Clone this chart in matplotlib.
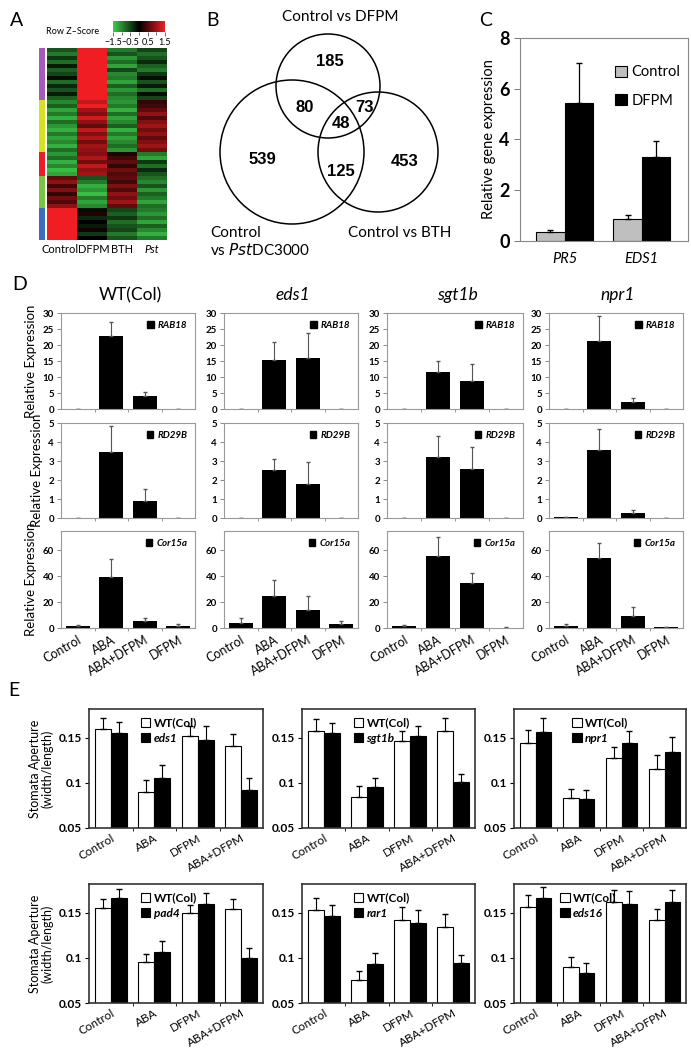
import numpy as np
import matplotlib
matplotlib.use("Agg")
import matplotlib.pyplot as plt
from matplotlib.colors import LinearSegmentedColormap, ListedColormap
from matplotlib.patches import Circle, Patch

plt.rcParams['font.family'] = ['Lato', 'DejaVu Sans']

W, H = 691, 1050

# ---------------- data ----------------
# A: heatmap (row z-scores), columns Control, DFPM, BTH, Pst
heat_cols = ["Control", "DFPM", "BTH", "Pst"]
cluster_sizes = [13, 13, 6, 8, 8]
cluster_colors = ['#a35db8', '#d6e024', '#ec1c2a', '#7cc245', '#3b6cc0']
heat_purple = [[-0.6, 1.5, -0.9, -0.5], [-0.9, 1.5, -0.6, -0.8], [-0.4, 1.5, -1.1, -0.6],
               [-0.8, 1.5, -0.8, -0.3], [-0.2, 1.5, -1.2, -0.7], [-0.7, 1.5, -0.5, -0.9],
               [-0.5, 1.5, -1.0, -0.4], [-0.1, 1.5, -0.9, -0.1], [-0.8, 1.5, -1.2, -0.6],
               [-0.3, 1.5, -0.7, -0.2], [-0.6, 1.5, -1.1, -0.8], [-0.2, 1.5, -0.8, -0.1],
               [-0.7, 1.5, -1.0, -0.5]]
heat_yellow = [[-1.0, 1.2, -1.1, 0.3], [-0.7, 1.5, -0.9, 0.4], [-1.2, 1.0, -1.3, 0.6],
               [-0.9, 0.8, -0.8, 0.9], [-1.3, 1.3, -1.2, 0.5], [-0.8, 0.9, -1.0, 0.8],
               [-1.1, 0.6, -0.7, 1.0], [-1.3, 1.2, -1.3, 0.7], [-0.9, 0.8, -0.9, 0.9],
               [-1.2, 1.1, -1.2, 0.6], [-1.0, 0.7, -1.0, 0.8], [-1.3, 1.0, -0.8, 1.0],
               [-0.8, 0.9, -1.1, 0.7]]
heat_red = [[-1.1, 0.8, 0.2, -0.9], [-0.8, 1.1, 0.4, -1.2], [-1.3, 0.7, 0.6, -0.4],
            [-1.0, 1.2, 0.3, -0.8], [-1.4, 0.9, 0.7, -0.3], [-1.2, 1.0, 0.5, -0.6]]
heat_green = [[0.6, -0.6, 0.6, -0.8], [0.9, -0.9, 0.4, -1.0], [0.4, -1.3, 0.8, -0.6],
              [0.8, -1.1, 0.5, -1.1], [0.3, -1.4, 0.9, -0.7], [0.7, -0.9, 0.7, -0.9],
              [0.5, -1.2, 1.0, -1.2], [0.9, -1.0, 0.6, -0.8]]
heat_blue = [[1.5, -0.1, -0.5, -0.9], [1.5, 0.2, -0.7, -1.1], [1.5, -0.3, -0.4, -0.8],
             [1.5, 0.0, -0.8, -1.2], [1.5, -0.2, -0.6, -0.7], [1.5, 0.1, -0.5, -1.0],
             [1.5, -0.4, -0.9, -1.3], [1.5, 0.0, -0.6, -0.9]]

# B: Venn counts
venn_counts = {"185": (330, 62), "80": (305, 108), "73": (364, 108), "48": (341, 124),
               "539": (262, 160), "125": (341, 172), "453": (405, 162)}

# C: qPCR
c_genes = ["PR5", "EDS1"]
c_control = [0.35, 0.85]
c_control_err = [0.08, 0.18]
c_dfpm = [5.45, 3.3]
c_dfpm_err = [1.55, 0.65]

# D: relative expression
d_treat = ["Control", "ABA", "ABA+DFPM", "DFPM"]
d_lines = ["WT(Col)", "eds1", "sgt1b", "npr1"]
d_genes = ["RAB18", "RD29B", "Cor15a"]
rab18 = [[0.1, 22.8, 4.1, 0.1], [0.1, 15.3, 16.0, 0.1], [0.05, 11.7, 8.6, 0.05], [0.1, 21.4, 2.2, 0.1]]
rab18_err = [[0, 4.3, 1.1, 0], [0, 5.7, 7.6, 0], [0, 3.2, 5.4, 0], [0, 7.8, 1.2, 0]]
rd29b = [[0.02, 3.5, 0.9, 0.02], [0.02, 2.53, 1.78, 0.02], [0.02, 3.23, 2.6, 0.02], [0.04, 3.58, 0.26, 0.02]]
rd29b_err = [[0, 1.33, 0.62, 0], [0, 0.57, 1.15, 0], [0, 1.1, 1.12, 0], [0.02, 1.12, 0.14, 0]]
cor15a = [[1.5, 39.5, 5.5, 1.5], [4.2, 25.0, 14.0, 3.0], [1.5, 55.5, 34.5, 0.3], [1.5, 54.5, 9.5, 0.5]]
cor15a_err = [[1.0, 14.0, 2.5, 1.5], [3.8, 12.0, 10.5, 2.5], [1.0, 15.0, 8.0, 0.3], [1.5, 11.0, 6.5, 0.5]]
d_ylims = [30, 5, 75]
d_yticks = [[0, 5, 10, 15, 20, 25, 30], [0, 1, 2, 3, 4, 5], [0, 20, 40, 60]]

# E: stomata aperture
e_treat = ["Control", "ABA", "DFPM", "ABA+DFPM"]
e_mutants = ["eds1", "sgt1b", "npr1", "pad4", "rar1", "eds16"]
e_wt = [[0.160, 0.090, 0.152, 0.141], [0.158, 0.084, 0.147, 0.158], [0.144, 0.083, 0.128, 0.116],
        [0.155, 0.095, 0.150, 0.154], [0.153, 0.076, 0.142, 0.134], [0.157, 0.090, 0.162, 0.142]]
e_wt_err = [[0.012, 0.013, 0.011, 0.013], [0.013, 0.013, 0.011, 0.014], [0.015, 0.010, 0.012, 0.015],
            [0.010, 0.009, 0.009, 0.011], [0.013, 0.010, 0.014, 0.015], [0.013, 0.011, 0.013, 0.012]]
e_mut = [[0.155, 0.106, 0.148, 0.092], [0.155, 0.096, 0.152, 0.101], [0.156, 0.082, 0.144, 0.134],
         [0.166, 0.107, 0.160, 0.100], [0.146, 0.093, 0.139, 0.094], [0.166, 0.083, 0.160, 0.162]]
e_mut_err = [[0.013, 0.014, 0.015, 0.013], [0.011, 0.010, 0.011, 0.009], [0.016, 0.010, 0.014, 0.017],
             [0.011, 0.012, 0.012, 0.011], [0.013, 0.012, 0.014, 0.009], [0.013, 0.011, 0.014, 0.013]]

fig = plt.figure(figsize=(W / 100, H / 100), dpi=100)


def add_ax(l, t, r, b):
    return fig.add_axes([l / W, 1 - b / H, (r - l) / W, (b - t) / H])


def ftext(x, y, s, **kw):
    fig.text(x / W, 1 - y / H, s, **kw)


# ---------------- A ----------------
ftext(17, 20, "A", fontsize=14, va='center', ha='center')
heat = np.array(heat_purple + heat_yellow + heat_red + heat_green + heat_blue)
zcmap = LinearSegmentedColormap.from_list("gbr", ['#3ccc48', '#000000', '#f01e22'])
axh = add_ax(47, 48, 167, 240)
axh.imshow(heat, cmap=zcmap, vmin=-1.5, vmax=1.5, aspect='auto', interpolation='nearest')
axh.set_yticks([])
axh.set_xticks([-0.05, 1.05, 2, 3])
axh.set_xticklabels(heat_cols, fontsize=8)
axh.get_xticklabels()[3].set_style('italic')
axh.tick_params(axis='x', length=0, pad=3)
for s in axh.spines.values():
    s.set_visible(False)

side = np.repeat(np.arange(len(cluster_sizes)), cluster_sizes).reshape(-1, 1)
axs = add_ax(39, 48, 45, 240)
axs.imshow(side, cmap=ListedColormap(cluster_colors), aspect='auto', interpolation='nearest')
axs.axis('off')

axk = add_ax(113, 21, 165, 32)
axk.imshow(np.linspace(-1.5, 1.5, 100).reshape(1, -1), cmap=zcmap, aspect='auto',
           extent=[-1.5, 1.5, 0, 1])
axk.set_yticks([])
axk.set_xticks([-1.5, -0.5, 0.5, 1.5])
axk.set_xticklabels(["\u22121.5", "\u22120.5", "0.5", "1.5"], fontsize=6.5)
axk.set_xticks([-1.0, 0.0, 1.0], minor=True)
axk.tick_params(axis='x', length=3, width=0.6, pad=1, color='#555555')
axk.tick_params(axis='x', which='minor', length=2, width=0.6, color='#555555')
for s in axk.spines.values():
    s.set_visible(False)
ftext(73, 31, "Row Z\u2013Score", fontsize=6.5, ha='center', va='center')

# ---------------- B ----------------
ftext(212, 20, "B", fontsize=14, va='center', ha='center')
axb = add_ax(195, 0, 480, 260)
axb.set_xlim(195, 480)
axb.set_ylim(260, 0)
axb.axis('off')
for cx, cy, r in [(328, 86, 52), (292, 152, 72), (378, 152, 60)]:
    axb.add_patch(Circle((cx, cy), r, fill=False, lw=1.1, ec='black'))
for lab, (x, y) in venn_counts.items():
    axb.text(x, y, lab, fontsize=12, fontweight='bold', ha='center', va='center',
             family=['Liberation Sans', 'DejaVu Sans'])
axb.text(340, 17, "Control vs DFPM", fontsize=11, ha='center', va='center')
axb.text(400, 233, "Control vs BTH", fontsize=11, ha='center', va='center')
axb.text(210, 233, "Control", fontsize=11, ha='left', va='center')
axb.text(210, 250, "vs $\\it{Pst}$DC3000", fontsize=11, ha='left', va='center')

# ---------------- C ----------------
ftext(486, 20, "C", fontsize=14, va='center', ha='center')
axc = add_ax(520, 38, 688, 241)
xc = np.arange(len(c_genes))
bw = 0.37
axc.bar(xc - bw / 2, c_control, bw, color='#bfbfbf', edgecolor='black', lw=0.8,
        yerr=[np.zeros(2), c_control_err], error_kw=dict(ecolor='black', lw=0.9, capsize=2),
        label='Control')
axc.bar(xc + bw / 2, c_dfpm, bw, color='black', edgecolor='black', lw=0.8,
        yerr=[np.zeros(2), c_dfpm_err], error_kw=dict(ecolor='black', lw=0.9, capsize=2),
        label='DFPM')
axc.set_xlim(-0.58, 1.6)
axc.set_ylim(0, 8)
axc.set_yticks([0, 2, 4, 6, 8])
axc.set_yticklabels(["0", "2", "4", "6", "8"], fontsize=13, fontweight='bold')
axc.set_xticks(xc)
axc.set_xticklabels(c_genes, fontsize=10.5, style='italic')
axc.tick_params(axis='x', length=0, pad=8)
axc.tick_params(axis='y', length=4, width=0.7, color='#777777')
axc.set_ylabel("Relative gene expression", fontsize=10.5, labelpad=2)
for s in axc.spines.values():
    s.set_color('#888888')
    s.set_linewidth(0.8)
axc.legend(loc='upper left', bbox_to_anchor=(0.49, 0.93), frameon=False, fontsize=10.5,
           handlelength=0.8, handleheight=0.8, handletextpad=0.3, labelspacing=1.0)

# ---------------- D ----------------
ftext(20, 285, "D", fontsize=14, va='center', ha='center')
cols_D = [(61, 195), (224, 358), (387, 523), (549, 683)]
rows_D = [(313, 409), (423, 518), (531, 628)]
d_vals = [rab18, rd29b, cor15a]
d_errs = [rab18_err, rd29b_err, cor15a_err]
xd = np.arange(4)
for ci, (l, r) in enumerate(cols_D):
    ftext((l + r) / 2 + 2, 295, d_lines[ci], fontsize=12.5, ha='center', va='center',
          style='normal' if ci == 0 else 'italic')
    for ri, (t, b) in enumerate(rows_D):
        ax = add_ax(l, t, r, b)
        ax.bar(xd, d_vals[ri][ci], 0.72, color='black',
               yerr=[np.zeros(4), d_errs[ri][ci]],
               error_kw=dict(ecolor='#555555', lw=0.8, capsize=1.2))
        ax.set_xlim(-0.5, 3.5)
        ax.set_ylim(0, d_ylims[ri])
        ax.set_yticks(d_yticks[ri])
        ax.set_yticklabels([str(v) for v in d_yticks[ri]], fontsize=7, fontweight='bold')
        ax.tick_params(axis='y', length=3, width=0.6, color='#777777', pad=2)
        ax.set_xticks([0.5, 1.5, 2.5], minor=True)
        ax.tick_params(axis='x', which='minor', length=2, width=0.6, color='#888888')
        ax.set_xticks(xd)
        if ri == 2:
            ax.set_xticklabels(d_treat, fontsize=9, rotation=30, ha='right',
                               rotation_mode='anchor')
            ax.tick_params(axis='x', which='major', length=0, pad=4)
        else:
            ax.set_xticklabels([])
            ax.tick_params(axis='x', which='major', length=0)
        for sname, s in ax.spines.items():
            s.set_color('#999999')
            s.set_linewidth(0.8)
        ax.legend(handles=[Patch(color='black', label=d_genes[ri])], loc='upper right',
                  frameon=False, handlelength=0.7, handleheight=0.7, handletextpad=0.4,
                  borderaxespad=0.4, prop=dict(style='italic', weight='bold', size=7))
        if ci == 0:
            ax.set_ylabel("Relative Expression", fontsize=9.5, labelpad=4)

# ---------------- E ----------------
ftext(14, 690, "E", fontsize=14, va='center', ha='center')
cols_E = [(89, 263), (302, 475), (514, 686)]
rows_E = [(709, 828), (884, 1003)]
legend_x = [0.25, 0.25, 0.29, 0.25, 0.25, 0.22]
xe = np.arange(4)
be = 0.37
for k, mut in enumerate(e_mutants):
    ri, ci = divmod(k, 3)
    l, r = cols_E[ci]
    t, b = rows_E[ri]
    ax = add_ax(l, t, r, b)
    ax.bar(xe - be / 2, e_wt[k], be, color='white', edgecolor='black', lw=0.8,
           yerr=[np.zeros(4), e_wt_err[k]], error_kw=dict(ecolor='black', lw=0.8, capsize=2),
           label='WT(Col)')
    ax.bar(xe + be / 2, e_mut[k], be, color='black', edgecolor='black', lw=0.8,
           yerr=[np.zeros(4), e_mut_err[k]], error_kw=dict(ecolor='black', lw=0.8, capsize=2),
           label=mut)
    ax.set_xlim(-0.5, 3.5)
    ax.set_ylim(0.05, 0.182)
    ax.set_yticks([0.05, 0.1, 0.15])
    ax.set_yticklabels(["0.05", "0.1", "0.15"], fontsize=8.5, fontweight='bold')
    ax.tick_params(axis='y', length=3, width=0.8, pad=2)
    ax.set_xticks(xe)
    ax.set_xticklabels(e_treat, fontsize=8.5, rotation=30, ha='right', rotation_mode='anchor')
    ax.tick_params(axis='x', length=0, pad=3)
    ax.set_xticks([0.5, 1.5, 2.5], minor=True)
    ax.tick_params(axis='x', which='minor', length=2, width=0.6)
    for s in ax.spines.values():
        s.set_color('#333333')
        s.set_linewidth(1.2)
    leg = ax.legend(loc='upper left', bbox_to_anchor=(legend_x[k], 1.0), frameon=False,
                    handlelength=0.8, handleheight=0.8, handletextpad=0.3, labelspacing=0.4,
                    borderaxespad=0.3, prop=dict(weight='bold', size=8.5))
    leg.get_texts()[1].set_style('italic')
    if ci == 0:
        ax.set_ylabel("Stomata Aperture\n(width/length)", fontsize=9, labelpad=4,
                      linespacing=0.95)

fig.savefig("out.png", dpi=100)
